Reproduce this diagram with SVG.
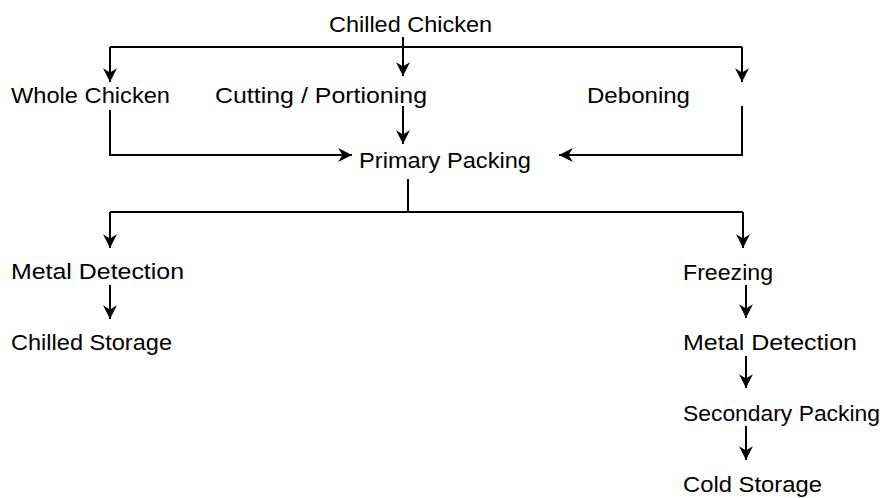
<svg xmlns="http://www.w3.org/2000/svg" width="887" height="498" viewBox="0 0 887 498">
  <style>
    text { font-family: "Liberation Sans", Arial, sans-serif; font-size: 22px; fill: #000; }
    .wire { fill: none; stroke: #000; stroke-width: 2; }
    .arrow { marker-end: url(#head); }
  </style>
  <defs>
    <marker id="head" markerUnits="userSpaceOnUse" markerWidth="16" markerHeight="16" viewBox="-14 -7 15 14" refX="0" refY="0" orient="auto">
      <path d="M0,0 L-13,-6.5 L-9,0 L-13,6.5 Z" fill="#000"/>
    </marker>
  </defs>
  <rect width="887" height="498" fill="#fff"/>

  <g id="chilled-chicken"><text x="329" y="32" textLength="163" lengthAdjust="spacingAndGlyphs">Chilled Chicken</text></g>
  <g id="whole-chicken"><text x="11" y="103" textLength="159" lengthAdjust="spacingAndGlyphs">Whole Chicken</text></g>
  <g id="cutting"><text x="215" y="103" textLength="212" lengthAdjust="spacingAndGlyphs">Cutting / Portioning</text></g>
  <g id="deboning"><text x="587" y="103" textLength="103" lengthAdjust="spacingAndGlyphs">Deboning</text></g>
  <g id="primary-packing"><text x="359" y="168" textLength="172" lengthAdjust="spacingAndGlyphs">Primary Packing</text></g>
  <g id="metal-detection-chilled"><text x="11" y="279" textLength="173" lengthAdjust="spacingAndGlyphs">Metal Detection</text></g>
  <g id="chilled-storage"><text x="11" y="350" textLength="161" lengthAdjust="spacingAndGlyphs">Chilled Storage</text></g>
  <g id="freezing"><text x="683" y="280" textLength="90" lengthAdjust="spacingAndGlyphs">Freezing</text></g>
  <g id="metal-detection-frozen"><text x="683" y="350" textLength="174" lengthAdjust="spacingAndGlyphs">Metal Detection</text></g>
  <g id="secondary-packing"><text x="683" y="421" textLength="197" lengthAdjust="spacingAndGlyphs">Secondary Packing</text></g>
  <g id="cold-storage"><text x="683" y="492" textLength="139" lengthAdjust="spacingAndGlyphs">Cold Storage</text></g>

  <g id="connectors">
    <!-- split of the incoming chicken -->
    <path class="wire" d="M110,47 H742"/>
    <path class="wire arrow" d="M403,37 V76"/>
    <path class="wire arrow" d="M110,47 V82"/>
    <path class="wire arrow" d="M742,47 V82"/>
    <!-- merge into primary packing -->
    <path class="wire arrow" d="M403,106 V144"/>
    <path class="wire arrow" d="M110,110 V155 H352"/>
    <path class="wire arrow" d="M742,106 V155 H559"/>
    <!-- split after primary packing -->
    <path class="wire" d="M408,179 V212"/>
    <path class="wire" d="M110,212 H743"/>
    <path class="wire arrow" d="M110,212 V248"/>
    <path class="wire arrow" d="M743,212 V248"/>
    <!-- chilled line -->
    <path class="wire arrow" d="M110,285 V319"/>
    <!-- frozen line -->
    <path class="wire arrow" d="M746,285 V318"/>
    <path class="wire arrow" d="M746,356 V388"/>
    <path class="wire arrow" d="M746,426 V460"/>
  </g>
</svg>
